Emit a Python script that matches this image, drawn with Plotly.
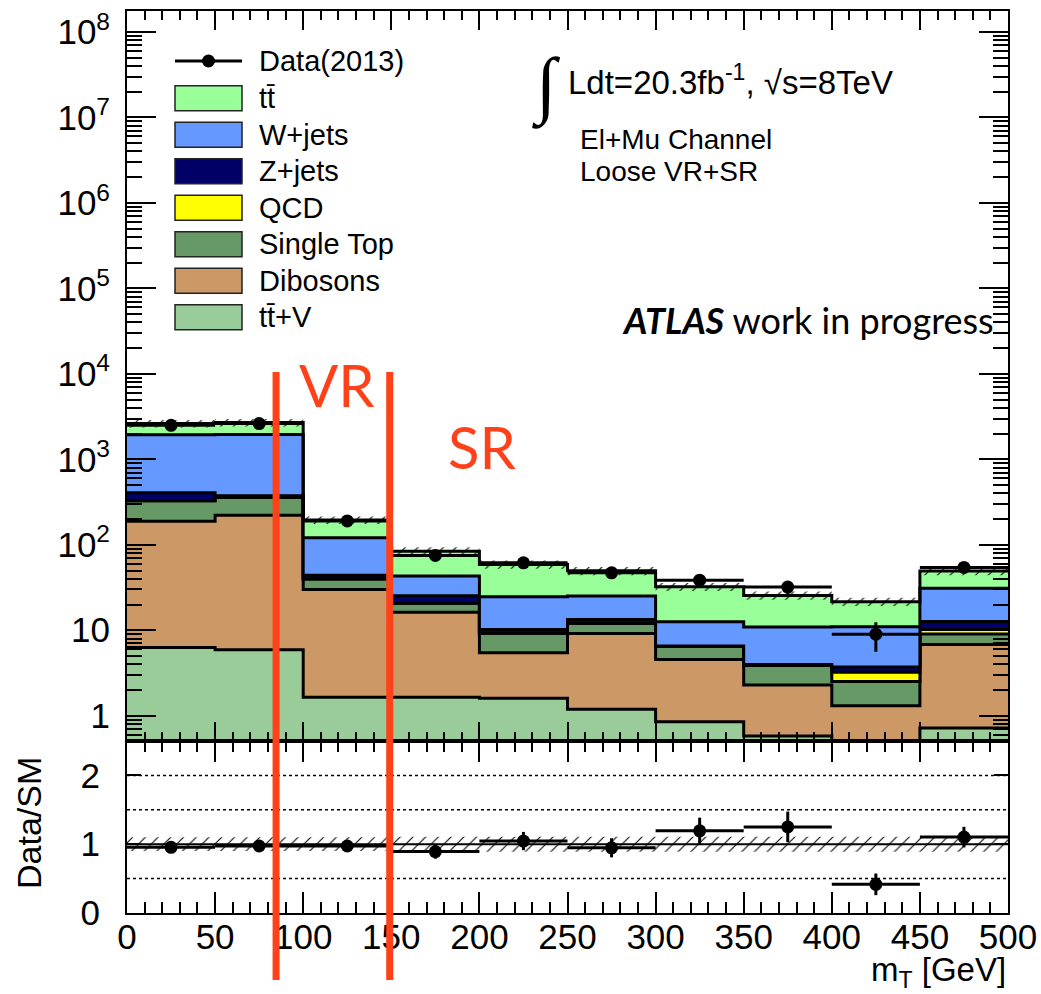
import math
import plotly.graph_objects as go

# ---------------- binning (GeV) ----------------
bin_edges = [0, 50, 100, 150, 200, 250, 300, 350, 400, 450, 500]

# ---------------- background yields per bin (stack order: bottom -> top) ----------------
ttv        = [6.3, 5.9, 1.64, 1.64, 1.6, 1.19, 0.85, 0.58, 0.45, 0.72]
dibosons   = [182.7, 215.1, 28.4, 14.6, 3.85, 8.0, 3.7, 1.7, 0.86, 6.1]
single_top = [138, 137, 9.7, 4.4, 3.75, 2.8, 1.9, 1.6, 1.2, 2.2]
qcd        = [0, 0, 0, 0, 0, 0, 0, 0, 0.72, 1.2]
zjets      = [78, 17, 4.3, 4.7, 1.0, 1.4, 0.1, 0.1, 0.48, 2.4]
wjets      = [1530, 1575, 77, 17.7, 14.4, 11.7, 6.0, 6.9, 7.3, 18.3]
ttbar      = [685, 740, 74, 41, 34.2, 24.5, 19.7, 14.7, 10.6, 18.4]

# ---------------- observed data ----------------
data_counts = [2500, 2620, 190, 75, 61.5, 47, 38.5, 32, 9.0, 54.4]
data_err    = [50, 51, 13.8, 8.7, 7.8, 6.9, 6.2, 5.7, 3.4, 7.4]

# relative uncertainty on the total SM prediction
sm_unc = [0.10, 0.10, 0.10, 0.11, 0.11, 0.11, 0.11, 0.11, 0.11, 0.11]

# ---------------- labels / styles ----------------
stack_names  = ["tt\u0304+V", "Dibosons", "Single Top", "QCD", "Z+jets", "W+jets", "tt\u0304"]
stack_values = [ttv, dibosons, single_top, qcd, zjets, wjets, ttbar]
stack_colors = ["#99CC99", "#CC9966", "#669966", "#FFFF00", "#000066", "#6699FF", "#99FF99"]
data_label = "Data(2013)"
region_bounds = [84.6, 149.1]   # VR / SR markers (GeV)

FONT = "Liberation Sans"
HUMANIST = "Lato"
RED = "#FF4119"

# ---------------- page geometry ----------------
W, H = 1041, 994
ML, MR, MT, MB = 127, 33, 11, 81
PW, PH = W - ML - MR, H - MT - MB
SPLIT = (H - MB - 741) / PH          # ratio panel fraction


def fx(px):
    return (px - ML) / PW


def fy(py):
    return (H - MB - py) / PH


centers = [(a + b) / 2 for a, b in zip(bin_edges[:-1], bin_edges[1:])]
half_w = [(b - a) / 2 for a, b in zip(bin_edges[:-1], bin_edges[1:])]


def step(vals):
    return list(vals) + [vals[-1]]


fig = go.Figure()

# ---------------- stacked histogram (main panel) ----------------
fig.add_trace(go.Scatter(x=bin_edges, y=step([1e-3] * len(centers)), mode="lines",
                         line=dict(width=0, shape="hv"), showlegend=False,
                         hoverinfo="skip", xaxis="x", yaxis="y"))
cum = [0.0] * len(centers)
for name, vals, col in zip(stack_names, stack_values, stack_colors):
    cum = [c + v for c, v in zip(cum, vals)]
    fig.add_trace(go.Scatter(x=bin_edges, y=step(cum), mode="lines", name=name,
                             line=dict(color="black", width=3, shape="hv"),
                             fill="tonexty", fillcolor=col, showlegend=False,
                             hoverinfo="skip", xaxis="x", yaxis="y"))
total = cum

# uncertainty band on the total
fig.add_trace(go.Scatter(x=bin_edges, y=step([t * (1 - u) for t, u in zip(total, sm_unc)]),
                         mode="lines", line=dict(width=0, shape="hv"), showlegend=False,
                         hoverinfo="skip", xaxis="x", yaxis="y"))
fig.add_trace(go.Scatter(x=bin_edges, y=step([t * (1 + u) for t, u in zip(total, sm_unc)]),
                         mode="lines", line=dict(width=0, shape="hv"), fill="tonexty",
                         fillcolor="rgba(0,0,0,0)",
                         fillpattern=dict(shape="/", fgcolor="black", bgcolor="rgba(0,0,0,0)",
                                          size=9, solidity=0.12),
                         showlegend=False, hoverinfo="skip", xaxis="x", yaxis="y"))

# data points
fig.add_trace(go.Scatter(x=centers, y=data_counts, mode="markers", name=data_label,
                         marker=dict(color="black", size=13),
                         error_y=dict(type="data", array=data_err, color="black", thickness=3, width=0),
                         error_x=dict(type="data", array=half_w, color="black", thickness=3, width=0),
                         showlegend=False, hoverinfo="skip", xaxis="x", yaxis="y"))

# ---------------- ratio panel ----------------
ratio = [d / t for d, t in zip(data_counts, total)]
ratio_err = [e / t for e, t in zip(data_err, total)]

fig.add_trace(go.Scatter(x=bin_edges, y=step([1 - u for u in sm_unc]), mode="lines",
                         line=dict(width=0, shape="hv"), showlegend=False,
                         hoverinfo="skip", xaxis="x2", yaxis="y2"))
fig.add_trace(go.Scatter(x=bin_edges, y=step([1 + u for u in sm_unc]), mode="lines",
                         line=dict(width=0, shape="hv"), fill="tonexty",
                         fillcolor="rgba(0,0,0,0)",
                         fillpattern=dict(shape="/", fgcolor="black", bgcolor="rgba(0,0,0,0)",
                                          size=9, solidity=0.12),
                         showlegend=False, hoverinfo="skip", xaxis="x2", yaxis="y2"))
fig.add_trace(go.Scatter(x=centers, y=ratio, mode="markers",
                         marker=dict(color="black", size=13),
                         error_y=dict(type="data", array=ratio_err, color="black", thickness=3, width=0),
                         error_x=dict(type="data", array=half_w, color="black", thickness=3, width=0),
                         showlegend=False, hoverinfo="skip", xaxis="x2", yaxis="y2"))

# ---------------- axes ----------------
log_lo, log_hi = -0.296, 8.246
major_y = [10 ** k for k in range(0, 9)]
major_txt = ["1", "10"] + ["10<sup>%d</sup>" % k for k in range(2, 9)]
minor_y = [m * 10 ** k for k in range(-1, 9) for m in range(2, 10)
           if log_lo < math.log10(m * 10 ** k) < log_hi]

axis_common = dict(showline=True, linecolor="black", linewidth=2, mirror="allticks",
                   ticks="inside", tickcolor="black", tickwidth=1.5, showgrid=False,
                   zeroline=False, tickfont=dict(family=FONT, size=35, color="black"))

fig.update_layout(
    xaxis=dict(domain=[0, 1], anchor="y", range=[0, 500], tickmode="linear", tick0=0, dtick=50,
               ticklen=19, showticklabels=False,
               minor=dict(ticks="inside", dtick=10, ticklen=9, tickcolor="black", tickwidth=1.5),
               **axis_common),
    yaxis=dict(domain=[SPLIT, 1], anchor="x", type="log", range=[log_lo, log_hi],
               tickmode="array", tickvals=major_y, ticktext=major_txt, ticklen=29,
               ticklabelstandoff=8,
               minor=dict(ticks="inside", tickmode="array", tickvals=minor_y, ticklen=15,
                          tickcolor="black", tickwidth=1.5),
               **axis_common),
    xaxis2=dict(domain=[0, 1], anchor="y2", range=[0, 500], tickmode="linear", tick0=0, dtick=50,
                ticklen=21, matches="x", ticklabelstandoff=-8,
                minor=dict(ticks="inside", dtick=10, ticklen=11, tickcolor="black", tickwidth=1.5),
                **axis_common),
    yaxis2=dict(domain=[0, SPLIT], anchor="x2", range=[0, 2.5], tickmode="array",
                tickvals=[0, 1, 2], ticktext=["0", "1", "2"], ticklen=14,
                ticklabelstandoff=18, **axis_common),
)

# ---------------- reference lines in ratio panel ----------------
shapes = []
for lvl in (0.5, 1.5, 2.0):
    shapes.append(dict(type="line", xref="x2", yref="y2", x0=0, x1=500, y0=lvl, y1=lvl,
                       line=dict(color="black", width=1.5, dash="dot"), layer="above"))
shapes.append(dict(type="line", xref="x2", yref="y2", x0=0, x1=500, y0=1, y1=1,
                   line=dict(color="black", width=2)))

# ---------------- VR / SR markers ----------------
for xb in region_bounds:
    shapes.append(dict(type="line", xref="x", yref="paper", x0=xb, x1=xb,
                       y0=fy(980), y1=fy(372), line=dict(color=RED, width=7)))

# ---------------- legend (drawn by hand) ----------------
LEG_X0, LEG_X1, LEG_TX = 175, 242, 257
row_data = 61
row0, row_step = 98.3, 36.5
annotations = []
shapes.append(dict(type="line", xref="paper", yref="paper", x0=fx(LEG_X0), x1=fx(LEG_X1),
                   y0=fy(row_data), y1=fy(row_data), line=dict(color="black", width=3)))
shapes.append(dict(type="circle", xref="paper", yref="paper",
                   x0=fx(208.5 - 6.5), x1=fx(208.5 + 6.5), y0=fy(row_data + 6.5), y1=fy(row_data - 6.5),
                   fillcolor="black", line=dict(color="black", width=0)))
annotations.append(dict(x=fx(LEG_TX), y=fy(row_data), xref="paper", yref="paper", text=data_label,
                        showarrow=False, xanchor="left", yanchor="middle",
                        font=dict(family=FONT, size=29, color="black")))
for i, (name, col) in enumerate(zip(stack_names[::-1], stack_colors[::-1])):
    yc = row0 + i * row_step
    shapes.append(dict(type="rect", xref="paper", yref="paper", x0=fx(LEG_X0), x1=fx(LEG_X1),
                       y0=fy(yc + 12.5), y1=fy(yc - 12.5), fillcolor=col,
                       line=dict(color="#222222", width=1.5)))
    annotations.append(dict(x=fx(LEG_TX), y=fy(yc), xref="paper", yref="paper", text=name,
                            showarrow=False, xanchor="left", yanchor="middle",
                            font=dict(family=FONT, size=29, color="black")))

# ---------------- labels ----------------
annotations += [
    dict(x=fx(546), y=fy(86), xref="paper", yref="paper", text="\u222b", showarrow=False,
         xanchor="center", yanchor="middle", font=dict(family="Liberation Serif", size=74, color="black")),
    dict(x=fx(566), y=fy(80), xref="paper", yref="paper",
         text="Ldt=20.3fb<sup>-1</sup>, \u221as=8TeV", showarrow=False,
         xanchor="left", yanchor="middle", font=dict(family=FONT, size=33, color="black")),
    dict(x=fx(578), y=fy(139), xref="paper", yref="paper", text="El+Mu Channel", showarrow=False,
         xanchor="left", yanchor="middle", font=dict(family=FONT, size=28, color="black")),
    dict(x=fx(578), y=fy(172), xref="paper", yref="paper", text="Loose VR+SR", showarrow=False,
         xanchor="left", yanchor="middle", font=dict(family=FONT, size=28, color="black")),
    dict(x=fx(996), y=fy(320), xref="paper", yref="paper",
         text="<b><i>ATLAS</i></b> work in progress", showarrow=False,
         xanchor="right", yanchor="middle", font=dict(family=HUMANIST, size=36, color="black")),
    dict(x=fx(337), y=fy(384), xref="paper", yref="paper", text="VR", showarrow=False,
         xanchor="center", yanchor="middle", font=dict(family=HUMANIST, size=58, color=RED)),
    dict(x=fx(482), y=fy(446), xref="paper", yref="paper", text="SR", showarrow=False,
         xanchor="center", yanchor="middle", font=dict(family=HUMANIST, size=58, color=RED)),
    dict(x=fx(1008), y=fy(972), xref="paper", yref="paper", text="m<sub>T</sub> [GeV]",
         showarrow=False, xanchor="right", yanchor="middle",
         font=dict(family=FONT, size=33, color="black")),
    dict(x=fx(29), y=fy(823), xref="paper", yref="paper", text="Data/SM", textangle=-90,
         showarrow=False, xanchor="center", yanchor="middle",
         font=dict(family=FONT, size=34, color="black")),
]

fig.update_layout(
    width=W, height=H,
    margin=dict(l=ML, r=MR, t=MT, b=MB),
    paper_bgcolor="white", plot_bgcolor="white",
    showlegend=False, template="none",
    shapes=shapes, annotations=annotations,
)

fig.write_html("out.html")
